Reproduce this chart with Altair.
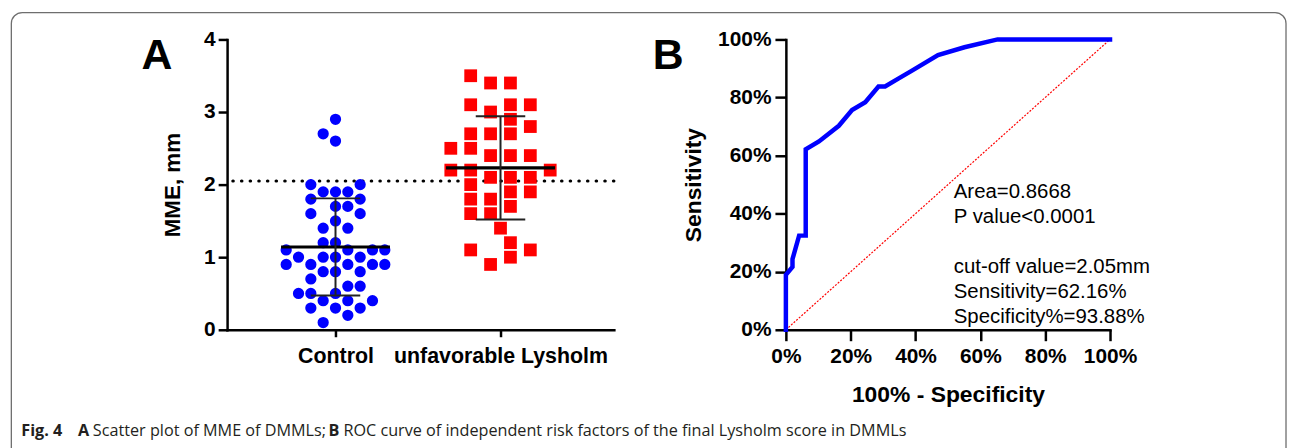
import altair as alt
import pandas as pd

# ---------------- Panel A data (MME, mm) ----------------
groups = ["Control", "unfavorable Lysholm"]

ctrl_mme = [2.9, 2.7, 2.6,
            2.0, 2.0,
            1.9, 1.9, 1.9,
            1.8, 1.8,
            1.7, 1.7,
            1.6, 1.6,
            1.5,
            1.4, 1.4,
            1.2, 1.2,
            1.1, 1.1, 1.1, 1.1,
            1.0, 1.0, 1.0, 1.0,
            0.9, 0.9, 0.9, 0.9, 0.9,
            0.8, 0.8, 0.8,
            0.7,
            0.6, 0.6,
            0.5, 0.5, 0.5,
            0.4, 0.4, 0.4,
            0.3, 0.3, 0.3,
            0.2,
            0.1]
ctrl_slot = [0, -1, 0,
             -2, 2,
             -1, 0, 1,
             -2, 2,
             0, 1,
             -2, 2,
             0,
             -1, 1,
             -1, 0,
             -4, 1, 3, 4,
             -3, -1, 0, 2,
             -4, -2, 1, 3, 4,
             -1, 0, 2,
             -2,
             1, 2,
             -3, -2, 0,
             -1, 1, 3,
             -2, 0, 2,
             1,
             -1]

unfav_mme = [3.5,
             3.4, 3.4,
             3.1, 3.1, 3.1,
             3.0,
             2.9,
             2.8,
             2.7, 2.7, 2.7,
             2.5, 2.5,
             2.4, 2.4, 2.4,
             2.2, 2.2, 2.2,
             2.1, 2.1, 2.1,
             2.0,
             1.9, 1.9,
             1.8, 1.8,
             1.7,
             1.6, 1.6,
             1.4,
             1.2,
             1.1, 1.1,
             1.0,
             0.9]
unfav_slot = [-1.5,
              -0.5, 0.5,
              -1.5, 0.5, 1.5,
              -0.5,
              0.5,
              1.5,
              -1.5, -0.5, 0.5,
              -2.5, -1.5,
              -0.5, 0.5, 1.5,
              -2.5, -1.5, 2.5,
              -0.5, 0.5, 1.5,
              -1.5,
              0.5, 1.5,
              -1.5, -0.5,
              0.5,
              -1.5, -0.5,
              0,
              0.5,
              -1.5, 1.5,
              0.5,
              -0.5]

cutoff_mme = [2.05]

# ---------------- Panel B data (ROC) ----------------
roc_fpr = [0, 0, 2.04, 2.04, 4.08, 6.12, 6.12, 10.20, 16.33, 20.41, 24.49,
           28.57, 30.61, 34.69, 38.78, 46.94, 55.10, 65.31, 100]
roc_tpr = [0, 18.92, 21.62, 24.32, 32.43, 32.43, 62.16, 64.86, 70.27, 75.68,
           78.38, 83.78, 83.78, 86.49, 89.19, 94.59, 97.30, 100, 100]
diag_x = [0, 100]
diag_y = [0, 100]
roc_notes_top = ["Area=0.8668", "P value<0.0001"]
roc_notes_bottom = ["cut-off value=2.05mm", "Sensitivity=62.16%", "Specificity%=93.88%"]

caption_parts = [("Fig. 4", "bold"), ("A", "bold"),
                 ("Scatter plot of MME of DMMLs;", "normal"), ("B", "bold"),
                 ("ROC curve of independent risk factors of the final Lysholm score in DMMLs", "normal")]

# ---------------- build tables ----------------
STEP_C = 12.4 / 166.0
STEP_U = 20.0 / 166.0
pts = pd.DataFrame({
    "group": [groups[0]] * len(ctrl_mme) + [groups[1]] * len(unfav_mme),
    "gi": [1] * len(ctrl_mme) + [2] * len(unfav_mme),
    "mme": ctrl_mme + unfav_mme,
    "slot": ctrl_slot + unfav_slot,
})
pts["xpos"] = [g + s * (STEP_C if g == 1 else STEP_U) for g, s in zip(pts["gi"], pts["slot"])]

roc = pd.DataFrame({"fpr": roc_fpr, "tpr": roc_tpr, "order": list(range(len(roc_fpr)))})
diag = pd.DataFrame({"fpr": diag_x, "tpr": diag_y})
cut = pd.DataFrame({"c": cutoff_mme})
one = pd.DataFrame({"a": [0]})

FONT = "Liberation Sans"
CAP_FONT = "Open Sans"

# ---------------- Panel A ----------------
WA, HA = 389, 292
scAx = alt.Scale(domain=[0.343, 2.687], nice=False, zero=False)
scAy = alt.Scale(domain=[0, 4], nice=False, zero=True)
lab_expr = "datum.value == 1 ? '%s' : '%s'" % (groups[0], groups[1])
axAx = alt.Axis(values=[1, 2], labelExpr=lab_expr, title=None, grid=False,
                tickSize=7, tickWidth=2.5, domainWidth=2.5, labelFontSize=21.5,
                labelPadding=9, labelFontWeight="bold", labelFont=FONT, labelLimit=500)
axAy = alt.Axis(values=[0, 1, 2, 3, 4], format="d", title="MME, mm", grid=False,
                tickSize=9, tickWidth=2.5, domainWidth=2.5, labelFontSize=21,
                labelPadding=3, labelFontWeight="bold", labelFont=FONT,
                titleFontSize=22.5, titleFontWeight="bold", titleFont=FONT, titlePadding=19)

def XA(f):
    return alt.X(f, type="quantitative", scale=scAx, axis=axAx)

def YA(f):
    return alt.Y(f, type="quantitative", scale=scAy, axis=axAy)

base_pts = alt.Chart(pts)
circles = base_pts.transform_filter(alt.datum.gi == 1).mark_point(
    shape="circle", filled=True, size=128, color="#0000FF", opacity=1
).encode(x=XA("xpos"), y=YA("mme"))
squares = base_pts.transform_filter(alt.datum.gi == 2).mark_point(
    shape="square", filled=True, size=165, color="#FF0000", opacity=1
).encode(x=XA("xpos"), y=YA("mme"))

stats = base_pts.transform_aggregate(
    m="mean(mme)", s="stdev(mme)", groupby=["gi"]
).transform_calculate(
    lo="datum.m - datum.s", hi="datum.m + datum.s",
    mx1="datum.gi - 0.33", mx2="datum.gi + 0.33",
    cx1="datum.gi - 0.15", cx2="datum.gi + 0.15",
)
mean_rule = stats.mark_rule(color="black", strokeWidth=3.2).encode(
    x=XA("mx1"), x2="mx2", y=YA("m"))
sd_rule = stats.mark_rule(color="#222222", strokeWidth=2).encode(
    x=XA("gi"), y=YA("lo"), y2="hi")
cap_hi = stats.mark_rule(color="#222222", strokeWidth=2).encode(
    x=XA("cx1"), x2="cx2", y=YA("hi"))
cap_lo = stats.mark_rule(color="#222222", strokeWidth=2).encode(
    x=XA("cx1"), x2="cx2", y=YA("lo"))

cut_rule = alt.Chart(cut).mark_rule(
    color="black", strokeWidth=3.2, strokeDash=[0.4, 8.3], strokeCap="round"
).encode(y=YA("c"))

label_A = alt.Chart(one).mark_text(
    text="A", fontSize=43, fontWeight="bold", font=FONT, align="left", baseline="alphabetic"
).encode(x=alt.value(142 - 228), y=alt.value(68 - 38))

# figure frame (decoration) and caption, positioned relative to panel A origin
frame = alt.Chart(one).mark_rect(
    fillOpacity=0, stroke="#6e6e6e", strokeWidth=1.3,
    cornerRadiusTopLeft=11, cornerRadiusTopRight=11
).encode(x=alt.value(11 - 228), x2=alt.value(1293 - 228),
         y=alt.value(11 - 38), y2=alt.value(452 - 38))

cap_x = [21, 78, 93, 330, 345]
cap_layers = []
for (txt, wt), cx in zip(caption_parts, cap_x):
    cap_layers.append(alt.Chart(one).mark_text(
        text=txt, fontSize=16.3, fontWeight=wt, font=CAP_FONT, align="left",
        baseline="alphabetic", color="#231f20"
    ).encode(x=alt.value(cx - 228), y=alt.value(437 - 38)))

panelA = alt.layer(frame, cut_rule, circles, squares, mean_rule, sd_rule, cap_hi, cap_lo,
                   label_A, *cap_layers).properties(width=WA, height=HA)

# ---------------- Panel B ----------------
WB, HB = 326, 292
scBx = alt.Scale(domain=[0, 100], nice=False)
scBy = alt.Scale(domain=[0, 100], nice=False)
axBx = alt.Axis(values=[0, 20, 40, 60, 80, 100], labelExpr="datum.value + '%'",
                title="100% - Specificity", grid=False, tickSize=11, tickWidth=2.5,
                domainWidth=2.5, labelFontSize=21, labelPadding=5, labelFontWeight="bold",
                labelFont=FONT, titleFontSize=23, titleFontWeight="bold", titleFont=FONT,
                titlePadding=17, labelFlush=False)
axBy = alt.Axis(values=[0, 20, 40, 60, 80, 100], labelExpr="datum.value + '%'",
                title="Sensitivity", grid=False, tickSize=11, tickWidth=2.5,
                domainWidth=2.5, labelFontSize=21, labelPadding=4, labelFontWeight="bold",
                labelFont=FONT, titleFontSize=23, titleFontWeight="bold", titleFont=FONT,
                titlePadding=12, labelFlush=False)

def XB(f):
    return alt.X(f, type="quantitative", scale=scBx, axis=axBx)

def YB(f):
    return alt.Y(f, type="quantitative", scale=scBy, axis=axBy)

diag_line = alt.Chart(diag).mark_line(
    color="#FF0000", strokeWidth=1.2, strokeDash=[2, 1.5]
).encode(x=XB("fpr"), y=YB("tpr"))
roc_line = alt.Chart(roc).mark_line(
    color="#0000FF", strokeWidth=4.5, strokeJoin="miter", strokeCap="square"
).encode(x=XB("fpr"), y=YB("tpr"), order="order:Q")

def note_block(lines, ypos):
    return alt.Chart(one).mark_text(
        text=lines, fontSize=20.5, font=FONT, align="left", baseline="alphabetic",
        lineHeight=25, color="black"
    ).encode(x=alt.X(datum=51.8, type="quantitative", scale=scBx, axis=axBx),
             y=alt.Y(datum=ypos, type="quantitative", scale=scBy, axis=axBy))

notes_top = note_block(roc_notes_top, 45.3)
notes_bottom = note_block(roc_notes_bottom, 19.6)
label_B = alt.Chart(one).mark_text(
    text="B", fontSize=43, fontWeight="bold", font=FONT, align="left", baseline="alphabetic"
).encode(x=alt.value(656 - 790), y=alt.value(68 - 38))

panelB = alt.layer(diag_line, roc_line, notes_top, notes_bottom, label_B).properties(width=WB, height=HB)

chart = alt.hconcat(panelA, panelB, spacing=790 - 228 - WA, bounds="flush").properties(
    padding={"left": 2.35, "top": 2.35, "right": 0, "bottom": 0}
).configure_view(stroke=None).configure_axis(
    domainColor="black", tickColor="black", labelColor="black", titleColor="black",
    domainCap="square"
)

chart.save("out.html", embed_options={"renderer": "svg", "actions": False})
